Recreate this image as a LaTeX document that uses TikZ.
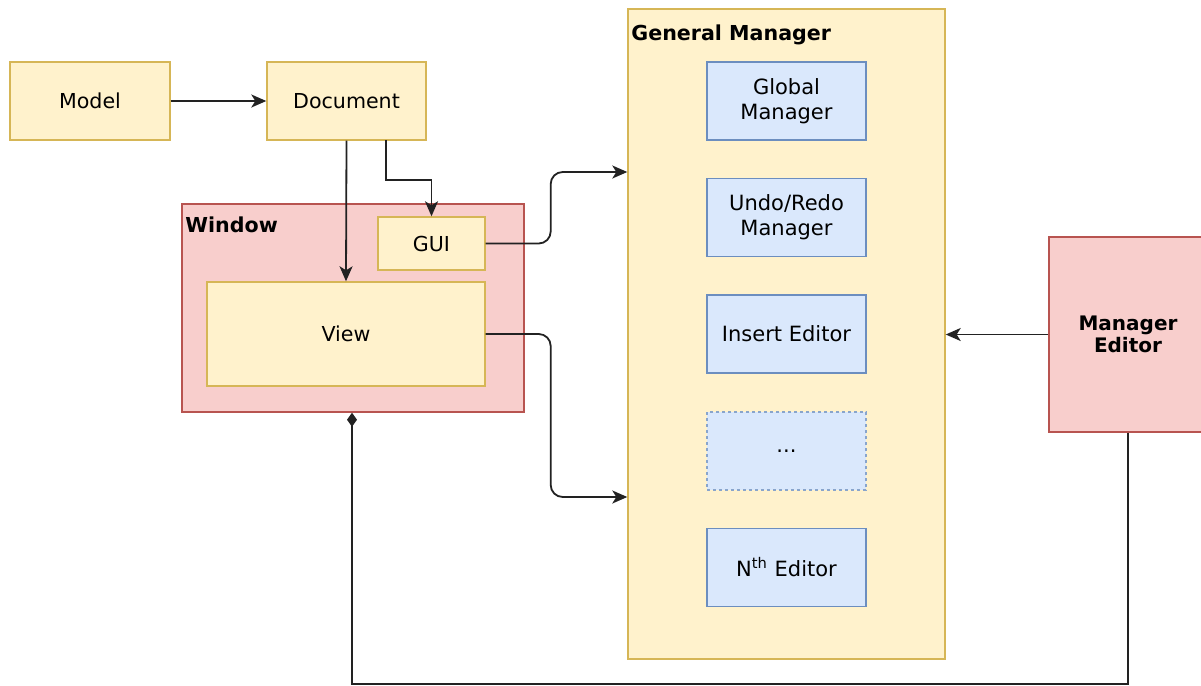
\documentclass[tikz,border=0pt]{standalone}
\usepackage{fontspec}
\setmainfont{DejaVu Sans}
\usepackage{tikz}
\usetikzlibrary{arrows.meta,positioning}
\definecolor{ylwfill}{HTML}{FFF2CC}
\definecolor{ylwline}{HTML}{D6B656}
\definecolor{bluefill}{HTML}{DAE8FC}
\definecolor{blueline}{HTML}{6C8EBF}
\definecolor{redfill}{HTML}{F8CECC}
\definecolor{redline}{HTML}{B85450}
\definecolor{wire}{HTML}{222222}

\begin{document}
\begin{tikzpicture}[x=0.5pt,y=-0.5pt,>={Stealth[length=7.5pt,width=6.5pt,inset=2pt]},
	ybox/.style={draw=ylwline,fill=ylwfill,line width=0.7pt,inner sep=0pt},
	bbox/.style={draw=blueline,fill=bluefill,line width=0.7pt,inner sep=0pt,
		minimum width=79.5pt,minimum height=39pt,align=center,font=\fontsize{10.5}{12.5}\selectfont},
	rbox/.style={draw=redline,fill=redfill,line width=0.7pt,inner sep=0pt},
	wire/.style={draw=wire,line width=0.9pt}]
	
	\useasboundingbox (0,0) rectangle (1201,686);
	
	% containers
	\node[rbox,minimum width=171pt,minimum height=104pt] (win) at (353,308) {};
	\node[ybox,minimum width=158.5pt,minimum height=325pt] (gm) at (786.5,334) {};
	\node[rbox,minimum width=79pt,minimum height=97.5pt,align=center,
		font=\bfseries\fontsize{10}{11}\selectfont] (me) at (1128,334.5) {Manager\\Editor};
	\node[anchor=north west,inner sep=0pt,font=\bfseries\fontsize{10.3}{12}\selectfont]
		(winlbl) at (185,216) {Window};
	\node[anchor=north west,inner sep=0pt,font=\bfseries\fontsize{10.3}{12}\selectfont]
		(gmlbl) at (631,24) {General Manager};
	
	% plain boxes
	\node[ybox,minimum width=80pt,minimum height=39pt,font=\fontsize{10.3}{12}\selectfont]
		(model) at (90,101) {Model};
	\node[ybox,minimum width=79.5pt,minimum height=39pt,font=\fontsize{10.3}{12}\selectfont]
		(doc) at (346.5,101) {Document};
	\node[ybox,minimum width=53.5pt,minimum height=26.5pt,font=\fontsize{10.3}{12}\selectfont]
		(gui) at (431.5,243.5) {GUI};
	\node[ybox,minimum width=139pt,minimum height=52pt,font=\fontsize{10.3}{12}\selectfont]
		(view) at (346,334) {View};
	
	% editors
	\node[bbox] (glob) at (786.5,101) {Global\\Manager};
	\node[bbox] (undo) at (786.5,217.5) {Undo/Redo\\Manager};
	\node[bbox] (ins) at (786.5,334) {Insert Editor};
	\node[bbox,dash pattern=on 1.5pt off 1.5pt,line width=1pt,draw=blueline!80] (dots) at (786.5,451) {...};
	\node[bbox] (nth) at (786.5,567.5) {N\textsuperscript{th} Editor};
	
	\coordinate (d2) at (386,140);    % second exit of the document
	\coordinate (g1) at (628,172);
	\coordinate (v1) at (628,497);
	\coordinate (c1) at (352,684);    % bottom corner of the return line
	
	\draw[wire,->] (model) -- (doc);
	\draw[wire,->] (doc.south) -- (view.north);
	\draw[wire,->] (d2) -- ++(0,40) -| (gui.north);
	\draw[wire,->,rounded corners=6pt] (gui.east) -- ++(65,0) |- (gm.west |- g1);
	\draw[wire,->,rounded corners=6pt] (view.east) -- ++(65,0) |- (gm.west |- v1);
	\draw[wire,->] (me.west) -- (me.west -| gm.east);
	\draw[wire,-{Diamond[length=7pt,width=5pt]}] (me.south) |- (c1) -- (c1 |- win.south);
	
\end{tikzpicture}
\end{document}
